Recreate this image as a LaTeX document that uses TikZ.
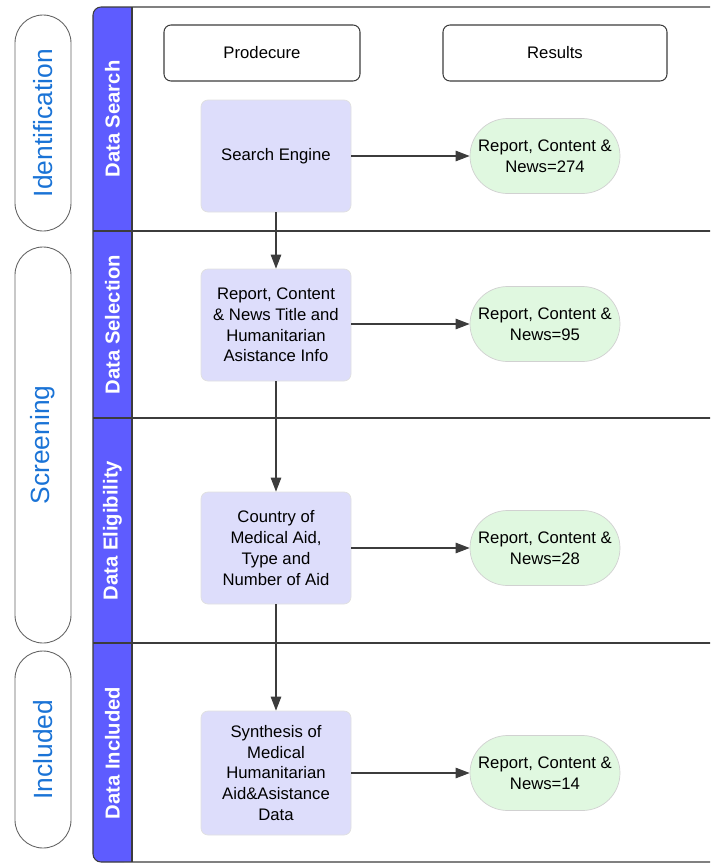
\documentclass[tikz,border=0pt]{standalone}
\usepackage{fontspec}
\setmainfont{Liberation Sans}
\usetikzlibrary{arrows.meta}
\definecolor{lanepurple}{RGB}{94,92,255}
\definecolor{boxlavender}{RGB}{221,221,251}
\definecolor{resgreen}{RGB}{224,248,224}
\definecolor{phaseblue}{RGB}{26,115,214}
\definecolor{linegray}{RGB}{60,60,60}
\begin{document}
\begin{tikzpicture}
	\tikzstyle{phase_pill} = [rectangle, rounded corners=0.56cm, draw=linegray!80, line width=0.5pt, minimum width=1.12cm, inner sep=0pt, text=phaseblue, font=\fontsize{15}{18}\selectfont]
	\tikzstyle{lane_label} = [rotate=90, text=white, font=\bfseries\fontsize{11.5}{14}\selectfont]
	\tikzstyle{header_box} = [rectangle, rounded corners=0.14cm, draw=linegray, line width=0.6pt, minimum height=1.12cm, font=\fontsize{9.5}{11.8}\selectfont]
	\tikzstyle{process_box} = [rectangle, rounded corners=0.14cm, draw=black!12, fill=boxlavender, minimum width=3cm, align=center, inner sep=0pt, font=\fontsize{9.5}{11.8}\selectfont]
	\tikzstyle{result_pill} = [rectangle, rounded corners=0.75cm, draw=black!18, fill=resgreen, minimum width=3cm, minimum height=1.5cm, align=center, inner sep=0pt, font=\fontsize{9.5}{11.8}\selectfont]
	\tikzstyle{flow} = [draw=linegray, line width=0.6pt, -{Triangle[length=2.8mm,width=2.1mm]}]

	\useasboundingbox (0,0) rectangle (14.2,-17.26);
	\clip (0,0) rectangle (14.2,-17.26);

	% Swimlane frame
	\fill[lanepurple, rounded corners=0.16cm] (1.86,-17.24) rectangle (2.64,-0.14);
	\fill[lanepurple] (2.3,-17.24) rectangle (2.64,-0.14);
	\draw[linegray, line width=0.6pt, rounded corners=0.16cm] (1.86,-17.24) rectangle (14.6,-0.14);
	\draw[linegray, line width=0.6pt] (2.64,-0.14) -- (2.64,-17.24);
	% Lane separators
	\foreach \y in {-4.62,-8.36,-12.86}
	\draw[linegray, line width=0.6pt] (1.86,\y) -- (14.6,\y);

	% Lane labels
	\node (LS) [lane_label] at (2.25,-2.38) {Data Search};
	\node (LSel) [lane_label] at (2.25,-6.49) {Data Selection};
	\node (LE) [lane_label] at (2.25,-10.61) {Data Eligibility};
	\node (LI) [lane_label] at (2.25,-15.06) {Data Included};

	% Phases
	\node (PId) [phase_pill, minimum height=4.32cm] at (0.86,-2.46) {\rotatebox{90}{Identification}};
	\node (PSc) [phase_pill, minimum height=7.92cm] at (0.86,-8.9) {\rotatebox{90}{Screening}};
	\node (PIn) [phase_pill, minimum height=3.94cm] at (0.86,-14.99) {\rotatebox{90}{Included}};

	% Column headers
	\node (HP) [header_box, minimum width=3.92cm] at (5.24,-1.06) {Prodecure};
	\node (HR) [header_box, minimum width=4.48cm] at (11.1,-1.06) {Results};

	% Procedure steps
	\node (S1) [process_box, minimum height=2.24cm] at (5.52,-3.12) {Search Engine};
	\node (S2) [process_box, minimum height=2.24cm] at (5.52,-6.5) {Report, Content\\\& News Title and\\Humanitarian\\Asistance Info};
	\node (S3) [process_box, minimum height=2.24cm] at (5.52,-10.96) {Country of\\Medical Aid,\\Type and\\Number of Aid};
	\node (S4) [process_box, minimum height=2.48cm] at (5.52,-15.46) {Synthesis of\\Medical\\Humanitarian\\Aid\&Asistance\\Data};

	% Results
	\node (R1) [result_pill] at (10.9,-3.12) {Report, Content \&\\News=274};
	\node (R2) [result_pill] at (10.9,-6.48) {Report, Content \&\\News=95};
	\node (R3) [result_pill] at (10.9,-10.96) {Report, Content \&\\News=28};
	\node (R4) [result_pill] at (10.9,-15.46) {Report, Content \&\\News=14};

	\draw[flow] (S1) -- (S2);
	\draw[flow] (S2) -- (S3);
	\draw[flow] (S3) -- (S4);
	\draw[flow] (S1) -- (R1);
	\draw[flow] (S2.east |- R2) -- (R2);
	\draw[flow] (S3) -- (R3);
	\draw[flow] (S4) -- (R4);
\end{tikzpicture}
\end{document}
